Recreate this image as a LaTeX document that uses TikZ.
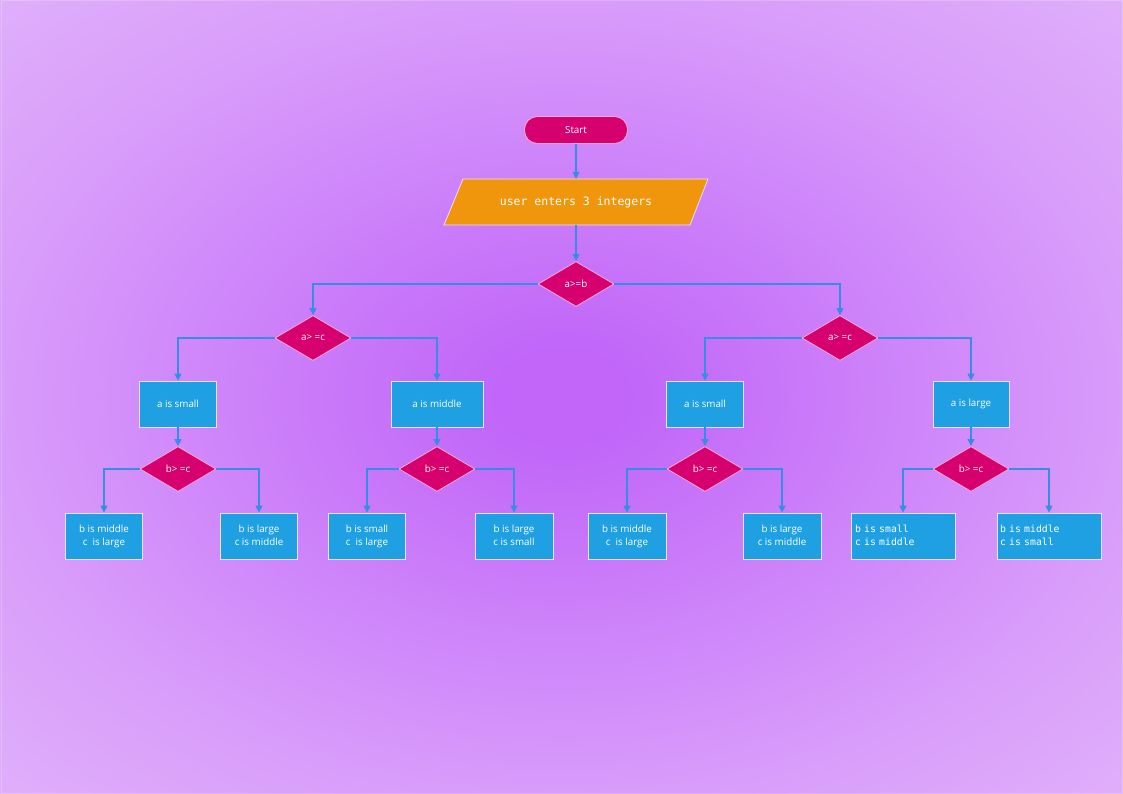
\documentclass[tikz,border=0pt]{standalone}
\usepackage{fontspec}
\setmainfont{Open Sans}
\newfontfamily\monof{DejaVu Sans Mono}
\usetikzlibrary{shapes.geometric,arrows.meta}
\definecolor{bgin}{RGB}{193,102,249}
\definecolor{bgmid}{RGB}{216,156,250}
\definecolor{bgout}{RGB}{224,176,251}
\definecolor{mag}{RGB}{214,0,110}
\definecolor{boxblue}{RGB}{30,160,226}
\definecolor{orng}{RGB}{240,150,12}
\definecolor{linec}{RGB}{55,140,230}
\definecolor{diabord}{RGB}{245,170,215}
\definecolor{boxbord}{RGB}{235,225,250}
\pgfdeclareradialshading{bgshade}{\pgfpoint{0bp}{0bp}}{color(0bp)=(bgin); color(3bp)=(bgin); color(25bp)=(bgmid); color(36bp)=(bgout); color(50bp)=(bgout)}
\newcommand\twol[2]{#1\strut\\#2\strut}
\tikzset{
  txt/.style={font=\fontsize{9.8}{13}\selectfont, text=white, align=center},
  term/.style={txt, rectangle, rounded corners=13pt, fill=mag, draw=diabord, line width=0.8pt, minimum width=103pt, minimum height=27pt, inner sep=0pt},
  dec/.style={txt, diamond, fill=mag, draw=diabord, line width=0.8pt, minimum width=76pt, minimum height=45pt, inner sep=0pt},
  proc/.style={txt, rectangle, fill=boxblue, draw=boxbord, line width=0.8pt, minimum height=46pt, inner sep=0pt},
  mproc/.style={rectangle, fill=boxblue, draw=boxbord, line width=0.8pt, minimum height=46pt, inner sep=0pt, text=white, align=left, font=\monof\fontsize{9.8}{13}\selectfont},
  conn/.style={draw=linec, line width=1.1pt, -{Triangle[length=7pt,width=7pt]}},
}
\begin{document}
\begin{tikzpicture}[x=1pt,y=-1pt]
\shade[shading=bgshade] (0,0) rectangle (1123,794);
\draw[white, opacity=0.2, line width=1pt] (1,1) rectangle (1122,793);
\useasboundingbox (0,0) rectangle (1123,794);

% start
\node[term] (start) at (576,130) {Start};
% input parallelogram
\fill[orng, draw=boxbord, line width=0.8pt] (444,225) -- (463,179) -- (708,179) -- (690,225) -- cycle;
\node[minimum width=226pt, minimum height=46pt, inner sep=0pt, text=white, font=\monof\fontsize{11.5}{13}\selectfont] (inp) at (576,202) {user enters 3 integers};

% decisions
\node[dec] (d1) at (576,284) {a>=b};
\node[dec] (d2) at (313,338) {a> =c};
\node[dec] (d3) at (840,338) {a> =c};

% level 2 boxes
\node[proc, minimum width=77pt] (b1) at (178,404) {a is small};
\node[proc, minimum width=92pt] (b2) at (437,404) {a is middle};
\node[proc, minimum width=77pt] (b3) at (705,404) {a is small};
\node[proc, minimum width=76pt] (b4) at (971,404) {a is large};

% level 3 decisions
\node[dec] (e1) at (178,469) {b> =c};
\node[dec] (e2) at (437,469) {b> =c};
\node[dec] (e3) at (705,469) {b> =c};
\node[dec] (e4) at (971,469) {b> =c};

% leaves
\node[proc, minimum width=77pt] (l1) at (104,536) {\twol{b is middle}{c~ is large}};
\node[proc, minimum width=77pt] (l2) at (259,536) {\twol{b is large}{c is middle}};
\node[proc, minimum width=77pt] (l3) at (367,536) {\twol{b is small}{c~ is large}};
\node[proc, minimum width=78pt] (l4) at (514,536) {\twol{b is large}{c is small}};
\node[proc, minimum width=78pt] (l5) at (627,536) {\twol{b is middle}{c~ is large}};
\node[proc, minimum width=78pt] (l6) at (782,536) {\twol{b is large}{c is middle}};
\node[mproc, minimum width=104pt, text width=96pt] (l7) at (903,536) {\twol{b is small}{c is middle}};
\node[mproc, minimum width=104pt, text width=98pt] (l8) at (1049,536) {\twol{b is middle}{c is small}};

% connectors
\draw[conn] (start) -- (inp);
\draw[conn] (inp) -- (d1);
\draw[conn] (d1.west) -| (d2.north);
\draw[conn] (d1.east) -| (d3.north);
\draw[conn] (d2.west) -| (b1.north);
\draw[conn] (d2.east) -| (b2.north);
\draw[conn] (d3.west) -| (b3.north);
\draw[conn] (d3.east) -| (b4.north);
\draw[conn] (b1) -- (e1);
\draw[conn] (b2) -- (e2);
\draw[conn] (b3) -- (e3);
\draw[conn] (b4) -- (e4);
\draw[conn] (e1.west) -| (l1.north);
\draw[conn] (e1.east) -| (l2.north);
\draw[conn] (e2.west) -| (l3.north);
\draw[conn] (e2.east) -| (l4.north);
\draw[conn] (e3.west) -| (l5.north);
\draw[conn] (e3.east) -| (l6.north);
\draw[conn] (e4.west) -| (l7.north);
\draw[conn] (e4.east) -| (l8.north);
\end{tikzpicture}
\end{document}
